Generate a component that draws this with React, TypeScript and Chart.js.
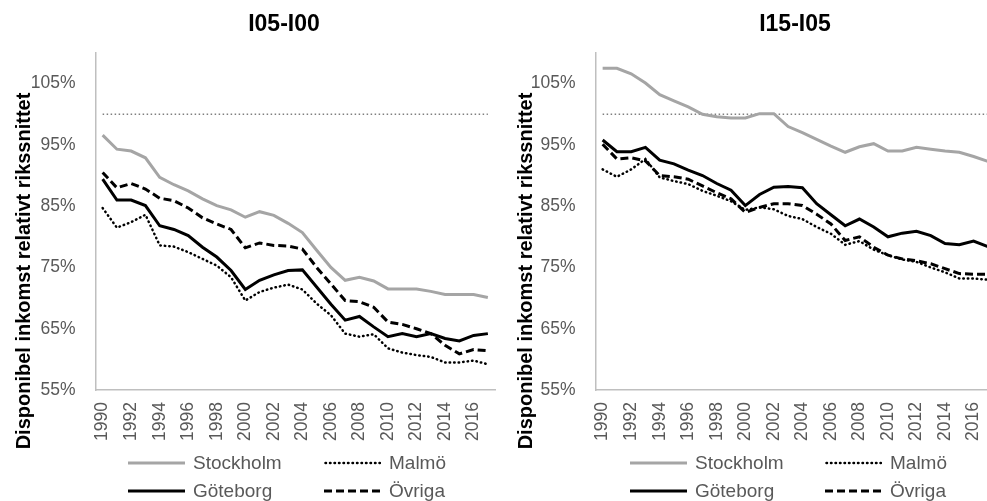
import React, { useEffect, useRef } from "react";
import { Chart, registerables } from "chart.js";

Chart.register(...registerables);

// ---------- data ----------
const YEARS = [
  "1990", "1991", "1992", "1993", "1994", "1995", "1996", "1997", "1998", "1999",
  "2000", "2001", "2002", "2003", "2004", "2005", "2006", "2007", "2008", "2009",
  "2010", "2011", "2012", "2013", "2014", "2015", "2016", "2017",
];
const Y_TICKS = [55, 65, 75, 85, 95, 105];
const Y_MIN = 55;
const Y_MAX = 110;
const REF_LEVEL = 100;

const SERIES_NAMES = ["Stockholm", "Malmö", "Göteborg", "Övriga"];

// Panel 1: I05-I00
const STOCKHOLM_I05 = [96.6, 94.3, 94.0, 92.9, 89.7, 88.5, 87.5, 86.2, 85.1, 84.4, 83.2, 84.1, 83.5, 82.2, 80.7, 77.8, 75.0, 72.9, 73.4, 72.8, 71.5, 71.5, 71.5, 71.1, 70.6, 70.6, 70.6, 70.1];
const MALMO_I05 = [84.7, 81.5, 82.4, 83.6, 78.6, 78.4, 77.5, 76.4, 75.3, 73.4, 69.6, 71.0, 71.7, 72.2, 71.4, 69.1, 67.2, 64.2, 63.7, 64.1, 61.8, 61.1, 60.7, 60.4, 59.5, 59.5, 59.8, 59.2];
const GOTEBORG_I05 = [89.4, 86.0, 86.0, 85.1, 81.8, 81.2, 80.2, 78.3, 76.7, 74.5, 71.4, 72.9, 73.8, 74.5, 74.6, 71.8, 69.0, 66.4, 67.0, 65.3, 63.7, 64.2, 63.7, 64.2, 63.4, 63.0, 63.9, 64.2];
const OVRIGA_I05 = [90.5, 88.0, 88.7, 87.8, 86.3, 85.9, 84.7, 83.1, 82.1, 81.2, 78.2, 79.0, 78.6, 78.5, 78.0, 75.0, 72.3, 69.6, 69.4, 68.5, 66.1, 65.7, 65.0, 64.2, 62.3, 60.9, 61.6, 61.4];

// Panel 2: I15-I05
const STOCKHOLM_I15 = [107.5, 107.5, 106.6, 105.1, 103.2, 102.2, 101.2, 100.0, 99.6, 99.4, 99.4, 100.1, 100.1, 98.0, 97.0, 95.9, 94.8, 93.8, 94.7, 95.2, 94.0, 94.0, 94.6, 94.3, 94.0, 93.8, 93.1, 92.3];
const MALMO_I15 = [91.0, 89.8, 91.0, 92.7, 89.7, 89.1, 88.6, 87.5, 86.7, 85.8, 84.4, 84.8, 84.5, 83.4, 82.9, 81.6, 80.5, 78.7, 79.3, 77.9, 77.0, 76.3, 75.9, 75.0, 74.2, 73.2, 73.2, 73.0];
const GOTEBORG_I15 = [95.8, 93.9, 93.9, 94.6, 92.5, 91.9, 90.9, 90.0, 88.7, 87.6, 85.1, 86.9, 88.1, 88.2, 88.0, 85.4, 83.6, 81.8, 82.9, 81.6, 80.0, 80.6, 80.9, 80.2, 78.9, 78.7, 79.3, 78.4];
const OVRIGA_I15 = [95.1, 92.7, 92.9, 92.4, 90.0, 89.8, 89.4, 88.3, 87.2, 86.2, 84.0, 84.8, 85.4, 85.4, 85.1, 83.7, 82.1, 79.4, 80.0, 78.3, 77.0, 76.4, 76.1, 75.6, 74.8, 74.0, 73.9, 73.9];

const TITLE_1 = "I05-I00";
const TITLE_2 = "I15-I05";
const Y_TITLE = "Disponibel inkomst relativt rikssnittet";

// ---------- styles ----------
const FONT = "'Liberation Sans', Arial, sans-serif";
const TICK_COLOR = "#595959";
const AXIS_COLOR = "#BFBFBF";

type LineStyle = { color: string; width: number; dash: number[]; cap: CanvasLineCap; svgDash: string };
const STYLES: LineStyle[] = [
  { color: "#A5A5A5", width: 3, dash: [], cap: "butt", svgDash: "" },
  { color: "#000000", width: 2.5, dash: [0.5, 4], cap: "round", svgDash: "0.5 4" },
  { color: "#000000", width: 3, dash: [], cap: "butt", svgDash: "" },
  { color: "#000000", width: 3, dash: [8, 4], cap: "butt", svgDash: "8 4" },
];

const refLinePlugin = {
  id: "refLine",
  beforeDatasetsDraw(chart: any) {
    const x = chart.scales.x;
    const y = chart.scales.y;
    const yy = y.getPixelForValue(REF_LEVEL);
    const ctx = chart.ctx;
    ctx.save();
    ctx.strokeStyle = "#7F7F7F";
    ctx.lineWidth = 1.5;
    ctx.setLineDash([1.5, 2.5]);
    ctx.beginPath();
    ctx.moveTo(x.getPixelForValue(0), yy);
    ctx.lineTo(x.getPixelForValue(YEARS.length - 1), yy);
    ctx.stroke();
    ctx.restore();
  },
};

type PanelProps = {
  left: number;
  title: string;
  series: number[][];
  titleX: number;
  yTitleX: number;
  legendCols: [number, number];
};

function Panel({ left, title, series, titleX, yTitleX, legendCols }: PanelProps) {
  const ref = useRef<HTMLCanvasElement>(null);

  useEffect(() => {
    const chart = new Chart(ref.current as HTMLCanvasElement, {
      type: "line",
      data: {
        labels: YEARS,
        datasets: SERIES_NAMES.map((name, i) => ({
          label: name,
          data: series[i],
          borderColor: STYLES[i].color,
          backgroundColor: STYLES[i].color,
          borderWidth: STYLES[i].width,
          borderDash: STYLES[i].dash,
          borderCapStyle: STYLES[i].cap,
          pointRadius: 0,
          pointHoverRadius: 0,
          fill: false,
          tension: 0,
        })),
      },
      options: {
        responsive: false,
        animation: false,
        layout: { padding: { top: 53, right: 5, bottom: 0, left: 0 } },
        plugins: {
          legend: { display: false },
          tooltip: { enabled: false },
          title: { display: false },
        },
        scales: {
          x: {
            type: "category",
            offset: true,
            grid: { display: false, drawTicks: false },
            border: { display: true, color: AXIS_COLOR, width: 1.5 },
            ticks: {
              autoSkip: false,
              maxRotation: 90,
              minRotation: 90,
              padding: 12,
              color: TICK_COLOR,
              font: { family: FONT, size: 17.5 },
              callback: (_v: any, i: number) => (i % 2 === 0 ? YEARS[i] : ""),
            },
            afterFit: (s: any) => {
              s.height = 111;
              s.paddingLeft = 0;
              s.paddingRight = 0;
            },
          },
          y: {
            min: Y_MIN,
            max: Y_MAX,
            grid: { display: false, drawTicks: false },
            border: { display: true, color: AXIS_COLOR, width: 1.5 },
            ticks: {
              padding: 20,
              color: TICK_COLOR,
              font: { family: FONT, size: 17.5 },
              callback: (v: any) => `${v}%`,
            },
            afterBuildTicks: (s: any) => {
              s.ticks = Y_TICKS.map((v) => ({ value: v }));
            },
            afterFit: (s: any) => {
              s.width = 95.5;
              s.paddingTop = 0;
              s.paddingBottom = 0;
            },
          },
        },
      } as any,
      plugins: [refLinePlugin],
    });
    return () => chart.destroy();
  }, []);

  const rows: [number, number][] = [
    [0, 1],
    [2, 3],
  ];
  const rowY = [463, 491];

  return (
    <div style={{ position: "absolute", left, top: 0, width: 500, height: 501 }}>
      <canvas ref={ref} width={500} height={501} style={{ display: "block", width: 500, height: 501 }} />
      <div
        style={{
          position: "absolute",
          left: titleX - left - 150,
          top: 11,
          width: 300,
          textAlign: "center",
          fontFamily: FONT,
          fontWeight: "bold",
          fontSize: 23,
          lineHeight: "25px",
          color: "#000",
        }}
      >
        {title}
      </div>
      <div
        style={{
          position: "absolute",
          left: yTitleX - left - 220,
          top: 271 - 13,
          width: 440,
          height: 26,
          lineHeight: "26px",
          textAlign: "center",
          transform: "rotate(-90deg)",
          fontFamily: FONT,
          fontWeight: "bold",
          fontSize: 20,
          color: "#000",
          whiteSpace: "nowrap",
        }}
      >
        {Y_TITLE}
      </div>
      {rows.map((row, r) =>
        row.map((si, c) => (
          <div
            key={si}
            style={{
              position: "absolute",
              left: legendCols[c] - left,
              top: rowY[r] - 12,
              height: 24,
              display: "flex",
              alignItems: "center",
              whiteSpace: "nowrap",
            }}
          >
            <svg width={57} height={8} style={{ display: "block" }}>
              <line
                x1={STYLES[si].cap === "round" ? 1.5 : 0}
                y1={4}
                x2={57}
                y2={4}
                stroke={STYLES[si].color}
                strokeWidth={STYLES[si].width}
                strokeDasharray={STYLES[si].svgDash || undefined}
                strokeLinecap={STYLES[si].cap}
              />
            </svg>
            <span
              style={{
                marginLeft: 8,
                fontFamily: FONT,
                fontSize: 19,
                color: TICK_COLOR,
                lineHeight: "24px",
              }}
            >
              {SERIES_NAMES[si]}
            </span>
          </div>
        ))
      )}
    </div>
  );
}

export default function App() {
  return (
    <div
      style={{
        position: "fixed",
        left: 0,
        top: 0,
        width: 987,
        height: 501,
        overflow: "hidden",
        background: "#ffffff",
      }}
    >
      <Panel
        left={0}
        title={TITLE_1}
        series={[STOCKHOLM_I05, MALMO_I05, GOTEBORG_I05, OVRIGA_I05]}
        titleX={284}
        yTitleX={22.5}
        legendCols={[128, 324]}
      />
      <Panel
        left={500}
        title={TITLE_2}
        series={[STOCKHOLM_I15, MALMO_I15, GOTEBORG_I15, OVRIGA_I15]}
        titleX={795}
        yTitleX={524.5}
        legendCols={[630, 825]}
      />
    </div>
  );
}
